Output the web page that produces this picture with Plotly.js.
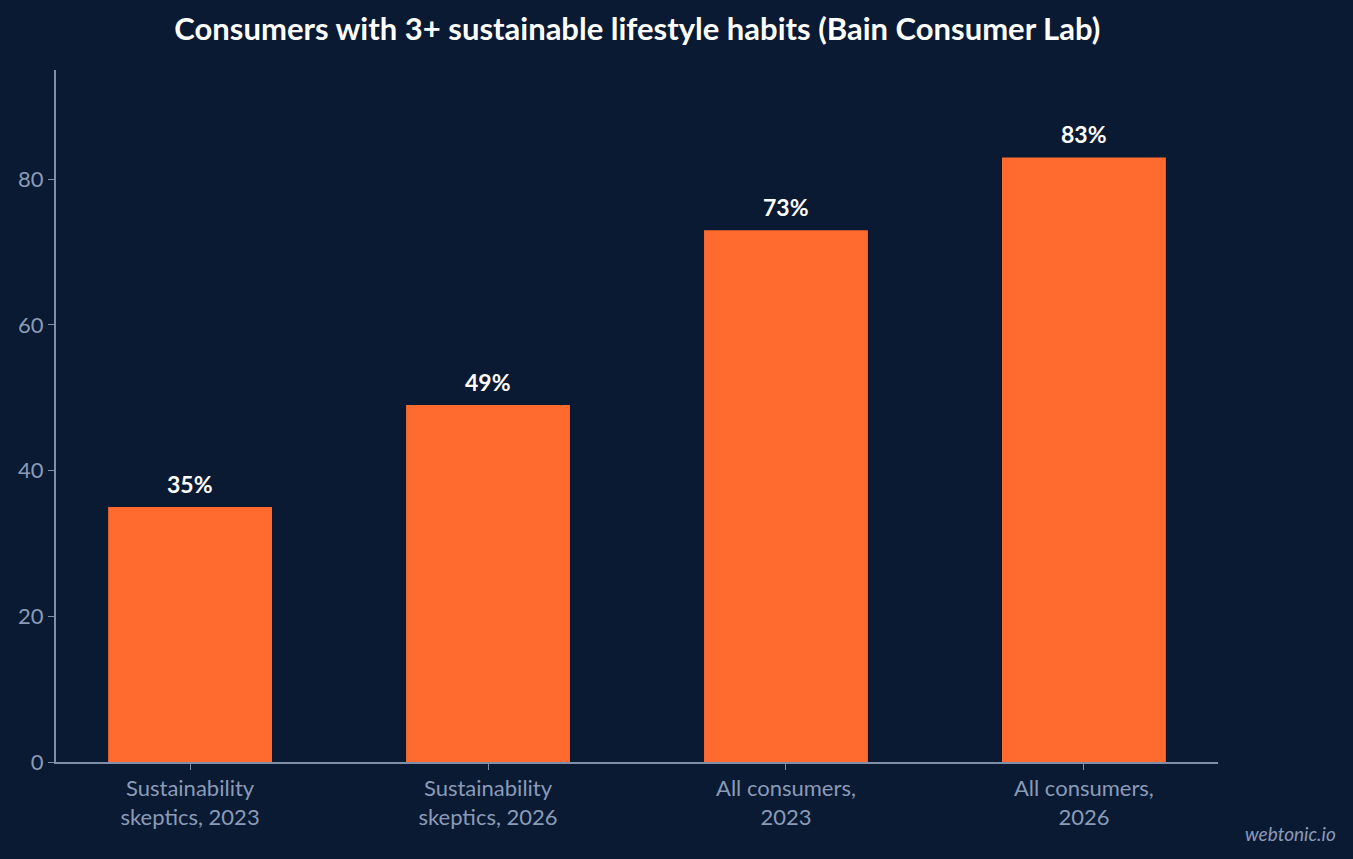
<!DOCTYPE html>
<html>
<head>
<meta charset="utf-8">
<script src="https://cdn.plot.ly/plotly-3.0.1.min.js"></script>
<style>
  html, body { margin: 0; padding: 0; background: #0b1a33; }
  #chart { width: 1353px; height: 859px; }
</style>
</head>
<body>
<div id="chart"></div>
<script>
const categories = [
  "Sustainability<br>skeptics, 2023",
  "Sustainability<br>skeptics, 2026",
  "All consumers,<br>2023",
  "All consumers,<br>2026"
];
const values = [35, 49, 73, 83];
const labels = values.map(v => v + "%");

const tickColor = "#8a9bb8";
const lineColor = "#7f8fa9";

// value labels above the bars
const valueNotes = categories.map((c, i) => ({
  x: c, y: values[i], xref: "x", yref: "y",
  text: "<b>" + labels[i] + "</b>",
  showarrow: false, yanchor: "bottom", yshift: 7,
  font: { family: "Lato", size: 23, color: "#ffffff" }
}));

Plotly.newPlot("chart", [{
  type: "bar",
  x: categories,
  y: values,
  width: 0.55,
  marker: { color: "#ff6b2e" },
  hoverinfo: "skip"
}], {
  width: 1353,
  height: 859,
  paper_bgcolor: "#0b1a33",
  plot_bgcolor: "#0b1a33",
  margin: { l: 56, r: 135, t: 70, b: 97 },
  font: { family: "Lato", color: tickColor },
  title: {
    text: "<b>Consumers with 3+ sustainable lifestyle habits (Bain Consumer Lab)</b>",
    font: { family: "Lato", size: 31, color: "#ffffff" },
    x: 0.471, xanchor: "center", y: 0.966, yanchor: "middle"
  },
  xaxis: {
    range: [-0.45, 3.45],
    showline: true, linecolor: lineColor, linewidth: 2,
    ticks: "outside", ticklen: 6, tickcolor: lineColor,
    tickfont: { family: "Lato", size: 22, color: tickColor },
    showgrid: false, zeroline: false, fixedrange: true
  },
  yaxis: {
    range: [0, 95],
    tickvals: [0, 20, 40, 60, 80],
    showline: true, linecolor: lineColor, linewidth: 2,
    ticks: "outside", ticklen: 6, tickcolor: lineColor,
    tickfont: { family: "Lato", size: 22, color: tickColor },
    showgrid: false, zeroline: false, fixedrange: true
  },
  annotations: valueNotes.concat([{
    text: "<i>webtonic.io</i>",
    xref: "paper", yref: "paper",
    x: 1.1033, y: -0.104, xanchor: "right", yanchor: "middle",
    showarrow: false,
    font: { family: "Lato", size: 19, color: tickColor }
  }]),
  showlegend: false
}, { displayModeBar: false, staticPlot: true });
</script>
</body>
</html>
